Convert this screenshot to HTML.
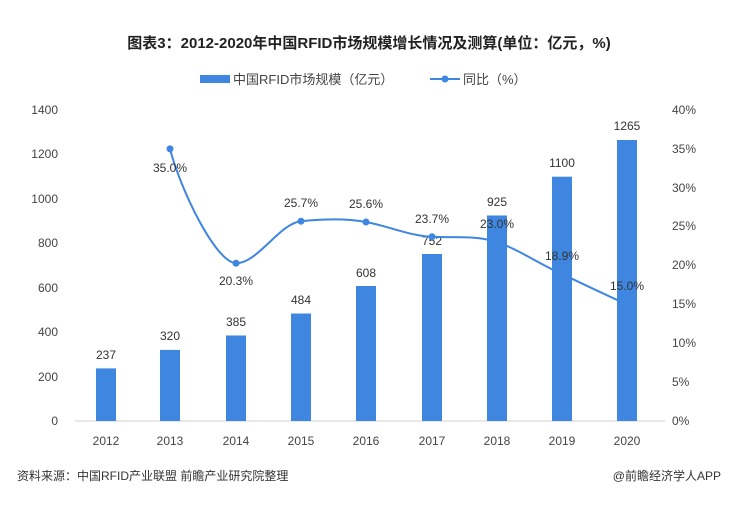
<!DOCTYPE html>
<html><head><meta charset="utf-8"><style>
body{margin:0;background:#fff;}
svg text{font-family:"Liberation Sans","Noto Sans CJK SC",sans-serif;}
</style></head><body>
<svg width="738" height="510" xmlns="http://www.w3.org/2000/svg">
<rect width="738" height="510" fill="#fff"/>
<text x="369" y="48" text-anchor="middle" font-size="15" font-weight="bold" fill="#222">图表3：2012-2020年中国RFID市场规模增长情况及测算(单位：亿元，%)</text>
<rect x="200" y="75" width="30" height="8" fill="#3e86e0"/>
<text x="233" y="84" font-size="13" fill="#444">中国RFID市场规模（亿元）</text>
<line x1="430" y1="79" x2="460" y2="79" stroke="#3e86e0" stroke-width="2"/>
<circle cx="445" cy="79" r="3.5" fill="#3e86e0"/>
<text x="463" y="84" font-size="13" fill="#444">同比（%）</text>
<line x1="75" y1="421" x2="665" y2="421" stroke="#d0d0d0" stroke-width="1"/>
<g font-size="12" fill="#444" text-anchor="end">
<text x="58" y="425">0</text><text x="58" y="381">200</text><text x="58" y="336">400</text><text x="58" y="292">600</text><text x="58" y="247">800</text><text x="58" y="203">1000</text><text x="58" y="158">1200</text><text x="58" y="114">1400</text>
</g>
<g font-size="12" fill="#444" text-anchor="start">
<text x="672" y="425">0%</text><text x="672" y="386">5%</text><text x="672" y="347">10%</text><text x="672" y="308">15%</text><text x="672" y="269">20%</text><text x="672" y="230">25%</text><text x="672" y="192">30%</text><text x="672" y="153">35%</text><text x="672" y="114">40%</text>
</g>
<g fill="#3e86e0">
<rect x="96" y="368.4" width="20" height="52.6"/>
<rect x="160" y="349.9" width="20" height="71.1"/>
<rect x="226" y="335.5" width="20" height="85.5"/>
<rect x="291" y="313.5" width="20" height="107.5"/>
<rect x="356" y="286" width="20" height="135"/>
<rect x="422" y="254" width="20" height="167"/>
<rect x="487" y="215.5" width="20" height="205.5"/>
<rect x="552" y="176.7" width="20" height="244.3"/>
<rect x="617" y="140" width="20" height="281"/>
</g>
<g font-size="12" fill="#333" text-anchor="middle">
<text x="106" y="359">237</text><text x="170" y="340">320</text><text x="236" y="326">385</text><text x="301" y="304">484</text><text x="366" y="277">608</text><text x="432" y="245">752</text><text x="497" y="206">925</text><text x="562" y="167">1100</text><text x="627" y="130">1265</text>
</g>
<g font-size="12" fill="#444" text-anchor="middle">
<text x="106" y="445">2012</text><text x="170" y="445">2013</text><text x="236" y="445">2014</text><text x="301" y="445">2015</text><text x="366" y="445">2016</text><text x="432" y="445">2017</text><text x="497" y="445">2018</text><text x="562" y="445">2019</text><text x="627" y="445">2020</text>
</g>
<path d="M170,148.9 C180,188 215,262 236,263.2 C257,264 280,223 301,221.2 C322,219 345,218 366,222 C388,226 410,236 432,236.7 C453,238 476,235 497,242.2 C518,249 541,265 562,274 C583,284 606,295 627,304.4" fill="none" stroke="#3e86e0" stroke-width="2"/>
<g fill="#3e86e0">
<circle cx="170" cy="148.9" r="3.5"/><circle cx="236" cy="263.2" r="3.5"/><circle cx="301" cy="221.2" r="3.5"/><circle cx="366" cy="222" r="3.5"/><circle cx="432" cy="236.7" r="3.5"/><circle cx="497" cy="242.2" r="3.5"/><circle cx="562" cy="274" r="3.5"/><circle cx="627" cy="304.4" r="3.5"/>
</g>
<g font-size="12" fill="#333" text-anchor="middle">
<text x="170" y="172">35.0%</text><text x="236" y="285">20.3%</text><text x="301" y="207">25.7%</text><text x="366" y="208">25.6%</text><text x="432" y="223">23.7%</text><text x="497" y="228">23.0%</text><text x="562" y="260">18.9%</text><text x="627" y="290">15.0%</text>
</g>
<text x="17" y="480" font-size="12" fill="#333">资料来源：中国RFID产业联盟 前瞻产业研究院整理</text>
<text x="721" y="480" font-size="12" fill="#333" text-anchor="end">@前瞻经济学人APP</text>
</svg>
</body></html>
